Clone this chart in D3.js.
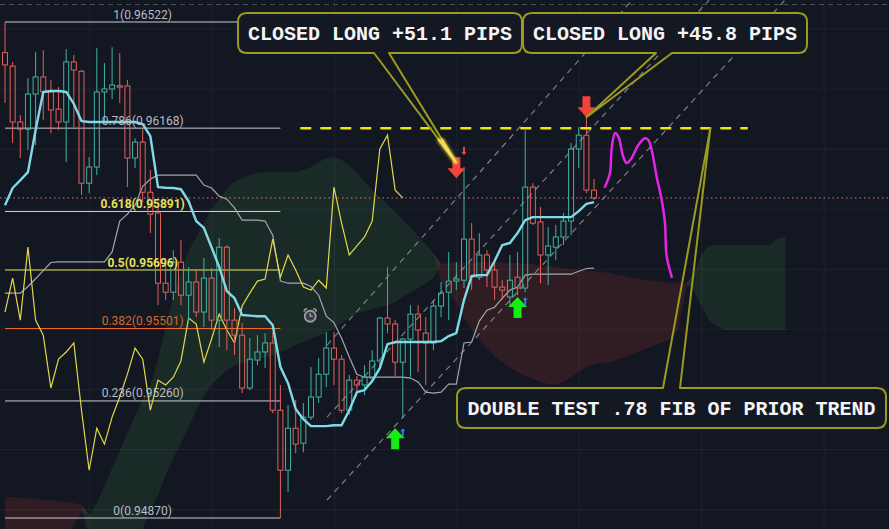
<!DOCTYPE html>
<html><head><meta charset="utf-8">
<script src="https://cdn.jsdelivr.net/npm/d3@7/dist/d3.min.js"></script>
<style>html,body{margin:0;padding:0;background:#131722;overflow:hidden}svg{display:block}</style>
</head><body>
<svg id="chart" width="889" height="529"></svg>
<script>
// ================= DATA =================
const opens = [0.96420,0.96375,0.96189,0.96165,0.96282,0.96339,0.96289,0.96232,0.96189,0.96389,
0.96358,0.95985,0.96039,0.96289,0.96299,0.96310,0.96309,0.96069,0.96122,0.95955,
0.95886,0.95652,0.95622,0.95722,0.95612,0.95656,0.95556,0.95669,0.95529,0.95772,
0.95529,0.95479,0.95303,0.95396,0.95423,0.95453,0.95229,0.95029,0.95169,0.95119,
0.95206,0.95273,0.95349,0.95436,0.95399,0.95229,0.95329,0.95313,0.95336,0.95393,
0.95536,0.95516,0.95389,0.95466,0.95549,0.95486,0.95453,0.95576,0.95622,0.95659,
0.95662,0.95799,0.95672,0.95746,0.95696,0.95639,0.95606,0.95672,0.95636,0.95972,
0.95856,0.95746,0.95772,0.95806,0.95859,0.96099,0.96145,0.95962];
const highs = [0.96522,0.96389,0.96212,0.96335,0.96422,0.96428,0.96329,0.96305,0.96432,0.96412,
0.96362,0.96072,0.96435,0.96385,0.96438,0.96419,0.96329,0.96135,0.96165,0.96029,
0.95912,0.95736,0.95762,0.95796,0.95706,0.95696,0.95736,0.95702,0.95802,0.95779,
0.95569,0.95519,0.95469,0.95479,0.95486,0.95489,0.95313,0.95246,0.95263,0.95253,
0.95373,0.95403,0.95489,0.95489,0.95413,0.95346,0.95343,0.95379,0.95429,0.95540,
0.95706,0.95529,0.95470,0.95579,0.95579,0.95539,0.95596,0.95656,0.95756,0.95722,
0.96039,0.95852,0.95819,0.95762,0.95729,0.95662,0.95746,0.95756,0.96162,0.95985,
0.95906,0.95839,0.95846,0.95886,0.96119,0.96172,0.96202,0.95999];
const lows = [0.96252,0.96119,0.96069,0.96095,0.96112,0.96195,0.96152,0.96162,0.96055,0.96172,
0.95946,0.95952,0.96012,0.96185,0.96265,0.96252,0.95972,0.96035,0.95922,0.95819,
0.95579,0.95596,0.95596,0.95579,0.95522,0.95539,0.95506,0.95496,0.95439,0.95429,
0.95413,0.95286,0.95296,0.95379,0.95369,0.95219,0.94870,0.94956,0.95086,0.95089,
0.95196,0.95253,0.95306,0.95313,0.95219,0.95213,0.95289,0.95279,0.95319,0.95363,
0.95486,0.95339,0.95203,0.95339,0.95356,0.95313,0.95429,0.95539,0.95529,0.95629,
0.95636,0.95629,0.95662,0.95639,0.95596,0.95596,0.95579,0.95612,0.95622,0.95846,
0.95652,0.95646,0.95729,0.95779,0.95812,0.96035,0.95952,0.95929];
const closes = [0.96379,0.96189,0.96165,0.96282,0.96339,0.96289,0.96229,0.96189,0.96389,0.96362,
0.95985,0.96039,0.96289,0.96299,0.96312,0.96305,0.96069,0.96122,0.95955,0.95882,
0.95652,0.95622,0.95722,0.95612,0.95656,0.95556,0.95669,0.95529,0.95772,0.95529,
0.95479,0.95303,0.95399,0.95423,0.95453,0.95229,0.95029,0.95169,0.95116,0.95206,
0.95273,0.95349,0.95436,0.95399,0.95229,0.95329,0.95313,0.95339,0.95393,0.95536,
0.95516,0.95389,0.95466,0.95549,0.95496,0.95453,0.95576,0.95619,0.95659,0.95666,
0.95799,0.95672,0.95746,0.95696,0.95639,0.95629,0.95662,0.95636,0.95972,0.95852,
0.95746,0.95776,0.95806,0.95859,0.96099,0.96145,0.95962,0.95936];

// base line (cyan)
const baseLine = [0.95912,0.95969,0.95995,0.96022,0.96162,0.96289,0.96292,0.96292,0.96289,0.96249,
0.96192,0.96189,0.96189,0.96189,0.96189,0.96189,0.96189,0.96189,0.96182,0.96142,
0.95972,0.95970,0.95969,0.95965,0.95925,0.95859,0.95836,0.95772,0.95706,0.95626,
0.95602,0.95546,0.95544,0.95542,0.95542,0.95512,0.95373,0.95319,0.95233,0.95199,
0.95176,0.95176,0.95176,0.95179,0.95179,0.95229,0.95289,0.95296,0.95326,0.95369,
0.95449,0.95456,0.95456,0.95456,0.95456,0.95456,0.95456,0.95459,0.95476,0.95486,
0.95596,0.95676,0.95679,0.95679,0.95726,0.95779,0.95786,0.95819,0.95862,0.95872,
0.95872,0.95872,0.95872,0.95872,0.95872,0.95892,0.95916,0.95922];
// slow line (grey)
const slowLine = [0.95619,0.95619,0.95619,0.95641,0.95667,0.95694,0.95721,0.95723,0.95723,0.95723,
0.95723,0.95723,0.95723,0.95723,0.95756,0.95859,0.95882,0.95912,0.95975,0.95999,
0.96012,0.96012,0.96012,0.96012,0.96012,0.96012,0.95979,0.95969,0.95942,0.95932,
0.95903,0.95862,0.95862,0.95862,0.95859,0.95812,0.95659,0.95652,0.95652,0.95652,
0.95641,0.95612,0.95542,0.95521,0.95469,0.95406,0.95349,0.95339,0.95339,0.95339,
0.95339,0.95339,0.95339,0.95336,0.95323,0.95289,0.95286,0.95289,0.95316,0.95316,
0.95453,0.95456,0.95526,0.95562,0.95572,0.95602,0.95629,0.95639,0.95679,0.95682,
0.95682,0.95682,0.95682,0.95682,0.95682,0.95692,0.95701,0.95702];
// lagging span (yellow)
const laggingSpan = [0.95556,0.95669,0.95529,0.95772,0.95529,0.95479,0.95303,0.95399,0.95423,0.95453,
0.95229,0.95029,0.95169,0.95116,0.95206,0.95273,0.95349,0.95436,0.95399,0.95229,
0.95329,0.95313,0.95339,0.95393,0.95536,0.95516,0.95389,0.95466,0.95549,0.95496,
0.95453,0.95576,0.95619,0.95659,0.95666,0.95799,0.95672,0.95746,0.95696,0.95639,
0.95629,0.95662,0.95636,0.95972,0.95852,0.95746,0.95776,0.95806,0.95859,0.96099,
0.96145,0.95962,0.95936];
// cloud spans (projected forward)
const spanA = [0.94696,0.94703,0.94710,0.94716,0.94730,0.94743,0.94763,0.94783,0.94810,0.94846,
0.94890,0.94880,0.94920,0.94976,0.95036,0.95093,0.95153,0.95209,0.95263,0.95313,
0.95396,0.95506,0.95606,0.95686,0.95759,0.95806,0.95852,0.95899,0.95932,0.95965,
0.95992,0.96002,0.96012,0.96019,0.96022,0.96022,0.96022,0.96022,0.96022,0.96029,
0.96039,0.96055,0.96069,0.96072,0.96062,0.96045,0.96019,0.95989,0.95962,0.95939,
0.95912,0.95889,0.95862,0.95836,0.95809,0.95782,0.95752,0.95656,0.95622,0.95586,
0.95536,0.95496,0.95462,0.95436,0.95409,0.95389,0.95373,0.95356,0.95342,0.95333,
0.95323,0.95316,0.95313,0.95323,0.95339,0.95359,0.95373,0.95382,0.95386,0.95389,
0.95396,0.95406,0.95416,0.95426,0.95436,0.95446,0.95456,0.95466,0.95496,0.95629,
0.95679,0.95746,0.95776,0.95779,0.95779,0.95779,0.95779,0.95779,0.95779,0.95779,
0.95779,0.95802,0.95806];
const spanB = [0.94940,0.94940,0.94936,0.94936,0.94933,0.94930,0.94930,0.94926,0.94923,0.94920,
0.94913,0.94796,0.94730,0.94723,0.94730,0.94743,0.94770,0.94796,0.94836,0.94896,
0.94946,0.95013,0.95069,0.95119,0.95173,0.95229,0.95276,0.95316,0.95339,0.95363,
0.95379,0.95386,0.95393,0.95399,0.95406,0.95413,0.95423,0.95433,0.95446,0.95456,
0.95469,0.95476,0.95486,0.95502,0.95519,0.95536,0.95552,0.95559,0.95566,0.95572,
0.95579,0.95589,0.95606,0.95622,0.95636,0.95652,0.95669,0.95716,0.95719,0.95722,
0.95722,0.95722,0.95722,0.95722,0.95722,0.95722,0.95719,0.95719,0.95716,0.95716,
0.95712,0.95709,0.95706,0.95702,0.95699,0.95696,0.95696,0.95692,0.95689,0.95686,
0.95679,0.95676,0.95669,0.95666,0.95662,0.95659,0.95656,0.95652,0.95656,0.95649,
0.95629,0.95579,0.95529,0.95512,0.95496,0.95496,0.95496,0.95496,0.95496,0.95496,
0.95496,0.95496,0.95496];

// Fibonacci retracement
const fibLevels = [1, 0.786, 0.618, 0.5, 0.382, 0.236, 0];
const fibLow = 0.94870, fibHigh = 0.96522;
const fibBars = [0, 36];

// grid ticks
const gridPrices = [0.9490,0.9510,0.9530,0.9550,0.9570,0.9590,0.9610,0.9630,0.9650];
const gridBars = [11,27,43,59,75,91,107];

// drawings (bar index, price)
const lastPrice = 0.95936;
const targetLevel = {price: 0.96168, from: 38.6, to: 97.1};
const channelLines = [
  {b0: 42.1, p0: 0.95446, b1: 81.96, p1: 0.96595},
  {b0: 42.1, p0: 0.95206, b1: 92.03, p1: 0.96595},
  {b0: 42.1, p0: 0.94930, b1: 101.96, p1: 0.96595}
];
const projection = [[78.43,0.95973],[79.08,0.96019],[79.31,0.96102],[79.74,0.96152],[80.18,0.96140],
  [80.82,0.96073],[81.27,0.96052],[81.92,0.96069],[82.78,0.96112],[83.66,0.96135],[84.09,0.96129],
  [84.54,0.96095],[85.19,0.96006],[85.84,0.95929],[86.27,0.95852],[86.41,0.95762],[86.58,0.95729],[87.15,0.95673]];
const sellSignals = [{bar:59, price:0.96002}, {bar:76, price:0.96205}];
const buySignals = [{bar:51, price:0.95169}, {bar:67, price:0.95606}];
const sellMarks = [{bar:60, price:0.96079}];
const buyMarks = [{bar:52, price:0.95169}, {bar:68, price:0.95606}];
const alarm = {bar:39.9, price:0.95542};
const callouts = [
  {text:"CLOSED LONG +51.1 PIPS", tipBar:59, tipPrice:0.96052},
  {text:"CLOSED LONG +45.8 PIPS", tipBar:76, tipPrice:0.96205},
  {text:"DOUBLE TEST .78 FIB OF PRIOR TREND", tipBar:92.2, tipPrice:0.96168}
];

// ================= DRAW =================
const W = 889, H = 529;
const svg = d3.select('#chart');
const x = d3.scaleLinear().domain([0, 102]).range([5, 5 + 102*7.65]);
const y = d3.scaleLinear().domain([fibLow, fibHigh]).range([518, 22]);

const defs = svg.append('defs');
defs.append('filter').attr('id','glow').attr('x','-50%').attr('y','-50%').attr('width','200%').attr('height','200%')
  .append('feGaussianBlur').attr('stdDeviation',1.6);

svg.append('rect').attr('width', W).attr('height', H).attr('fill', '#131722');

// grid via axes
const gy = svg.append('g').call(d3.axisRight(y).tickValues(gridPrices).tickSize(W).tickFormat(''));
gy.select('.domain').remove();
gy.selectAll('line').attr('stroke', '#1f2330');
const gx = svg.append('g').call(d3.axisBottom(x).tickValues(gridBars).tickSize(H).tickFormat(''));
gx.select('.domain').remove();
gx.selectAll('line').attr('stroke', '#1f2330');

// top dashed separator
svg.append('line').attr('x1',0).attr('x2',W).attr('y1',4.5).attr('y2',4.5)
  .attr('stroke','#4b4f5b').attr('stroke-dasharray','5,4');

// cloud
const idx = d3.range(spanA.length);
svg.append('path').datum(idx).attr('fill','rgba(67,160,71,0.15)')
  .attr('d', d3.area().x(i=>x(i)).y0(i=>y(spanB[i])).y1(i=>y(Math.max(spanA[i],spanB[i]))));
svg.append('path').datum(idx).attr('fill','rgba(244,67,54,0.13)')
  .attr('d', d3.area().x(i=>x(i)).y0(i=>y(spanA[i])).y1(i=>y(Math.max(spanA[i],spanB[i]))));

// fib lines
const fibColor = l => (l===0.618||l===0.5) ? '#e8e35a' : (l===0.382 ? '#ec6a2e' : '#c9ccd3');
const fibPrice = l => fibLow + l*(fibHigh-fibLow);
svg.append('g').selectAll('line').data(fibLevels).join('line')
  .attr('x1', x(fibBars[0])).attr('x2', x(fibBars[1]))
  .attr('y1', d=>y(fibPrice(d))).attr('y2', d=>y(fibPrice(d)))
  .attr('stroke', fibColor).attr('stroke-width', 1);

// channel dashed lines
svg.append('g').selectAll('line').data(channelLines).join('line')
  .attr('x1', d=>x(d.b0)).attr('y1', d=>y(d.p0)).attr('x2', d=>x(d.b1)).attr('y2', d=>y(d.p1))
  .attr('stroke','#9598a1').attr('stroke-width',1.2).attr('stroke-dasharray','6,5').attr('opacity',0.8);

// slow line (grey)
svg.append('path').datum(slowLine).attr('fill','none').attr('stroke','#a3a6af').attr('stroke-width',1.2)
  .attr('d', d3.line().x((d,i)=>x(i)).y(d=>y(d)));
// lagging span
svg.append('path').datum(laggingSpan).attr('fill','none').attr('stroke','#e3d84a').attr('stroke-width',1.2)
  .attr('d', d3.line().x((d,i)=>x(i)).y(d=>y(d)));

// candles
const bars = opens.map((o,i)=>({i, o, h:highs[i], l:lows[i], c:closes[i]}));
const up = '#3fb3a3', dn = '#e2605a';
const cg = svg.append('g');
cg.selectAll('.wk').data(bars).join('path')
  .attr('stroke', d=>d.c>=d.o?up:dn).attr('stroke-width',1).attr('fill','none')
  .attr('d', d=>{
    const cx = x(d.i), top=y(Math.max(d.o,d.c)), bot=y(Math.min(d.o,d.c));
    return `M${cx},${y(d.h)}V${top}M${cx},${bot}V${y(d.l)}`;
  });
cg.selectAll('.bd').data(bars).join('rect')
  .attr('x', d=>x(d.i)-2.5).attr('width',5)
  .attr('y', d=>y(Math.max(d.o,d.c))).attr('height', d=>Math.max(1, y(Math.min(d.o,d.c))-y(Math.max(d.o,d.c))))
  .attr('fill','none').attr('stroke', d=>d.c>=d.o?up:dn).attr('stroke-width',1);

// base line (cyan)
svg.append('path').datum(baseLine).attr('fill','none').attr('stroke','#80dbe8').attr('stroke-width',2.4)
  .attr('stroke-linejoin','round').attr('d', d3.line().x((d,i)=>x(i)).y(d=>y(d)));

// last price dotted line
svg.append('line').attr('x1',0).attr('x2',W).attr('y1',y(lastPrice)).attr('y2',y(lastPrice))
  .attr('stroke','#e8737a').attr('stroke-dasharray','1.5,3').attr('stroke-width',1);

// target yellow dashed
svg.append('line').attr('x1',x(targetLevel.from)).attr('x2',x(targetLevel.to))
  .attr('y1',y(targetLevel.price)).attr('y2',y(targetLevel.price))
  .attr('stroke','#f2e600').attr('stroke-width',2.5).attr('stroke-dasharray','11,9');

// projection magenta
svg.append('path').datum(projection).attr('fill','none').attr('stroke','#e226e6').attr('stroke-width',2.5)
  .attr('stroke-linecap','round').attr('d', d3.line().x(d=>x(d[0])).y(d=>y(d[1])).curve(d3.curveCatmullRom));

// arrows
const downArrow = 'M0,0L-9,-10L-4,-10L-4,-21L4,-21L4,-10L9,-10Z';
const upArrow = 'M0,0L-9.5,10L-4,10L-4,21L4,21L4,10L9.5,10Z';
svg.append('g').selectAll('path').data(sellSignals).join('path')
  .attr('transform', d=>`translate(${x(d.bar)},${y(d.price)})`).attr('d', downArrow).attr('fill','#f0443a');
svg.append('g').selectAll('path').data(buySignals).join('path')
  .attr('transform', d=>`translate(${x(d.bar)},${y(d.price)})`).attr('d', upArrow).attr('fill','#14ee14');
svg.append('g').selectAll('path').data(sellMarks).join('path')
  .attr('transform', d=>`translate(${x(d.bar)},${y(d.price)})`).attr('d','M0,0L-2.5,-3L-1,-3L-1,-8L1,-8L1,-3L2.5,-3Z').attr('fill','#f0443a');
svg.append('g').selectAll('path').data(buyMarks).join('path')
  .attr('transform', d=>`translate(${x(d.bar)},${y(d.price)})`).attr('d','M0,0L-2.5,3L-1,3L-1,8L1,8L1,3L2.5,3Z').attr('fill','#2f7fe0');

// alarm icon
const al = svg.append('g').attr('transform', `translate(${x(alarm.bar)},${y(alarm.price)})`);
al.append('circle').attr('r',5.5).attr('fill','#3a3d47').attr('stroke','#9a9da6').attr('stroke-width',1.8);
al.append('path').attr('d','M0,-3V0H2.5').attr('stroke','#b0b3bb').attr('fill','none').attr('stroke-width',1.2);
al.append('path').attr('d','M-6,-4.5A3,3 0 0 1 -3,-7.5M6,-4.5A3,3 0 0 0 3,-7.5').attr('stroke','#9a9da6').attr('fill','none').attr('stroke-width',1.6);

// fib labels
svg.append('g').selectAll('text').data(fibLevels).join('text')
  .attr('x', (x(fibBars[0])+x(fibBars[1]))/2).attr('y', d=>y(fibPrice(d))-3.5)
  .attr('text-anchor','middle').attr('font-family','Roboto, "Noto Sans", sans-serif').attr('font-size',12)
  .attr('font-weight', d=>(d===0.618||d===0.5)?700:400)
  .attr('fill', d=>(d===0.618||d===0.5)?'#e6e15c':(d===0.382?'#d8672f':'#b9bcc4'))
  .text(d=>`${d}(${fibPrice(d).toFixed(5)})`);

// callouts
const boxes = [
  {x0:238, y0:13, x1:522, y1:53, tb1:374, tb2:389, side:'bottom', ty:39.5},
  {x0:523, y0:13, x1:807, y1:53, tb1:656, tb2:672, side:'bottom', ty:39.5},
  {x0:457, y0:388, x1:886, y1:428, tb1:663, tb2:680, side:'top', ty:414.5}
];
const r = 9;
callouts.forEach((c,k)=>{
  const b = boxes[k], tx = x(c.tipBar), ty = y(c.tipPrice);
  let d;
  if (b.side==='bottom') {
    d = `M${b.x0+r},${b.y0}H${b.x1-r}Q${b.x1},${b.y0} ${b.x1},${b.y0+r}V${b.y1-r}Q${b.x1},${b.y1} ${b.x1-r},${b.y1}`+
        `H${b.tb2}L${tx},${ty}L${b.tb1},${b.y1}H${b.x0+r}Q${b.x0},${b.y1} ${b.x0},${b.y1-r}V${b.y0+r}Q${b.x0},${b.y0} ${b.x0+r},${b.y0}Z`;
  } else {
    d = `M${b.x0+r},${b.y0}H${b.tb1}L${tx},${ty}L${b.tb2},${b.y0}H${b.x1-r}Q${b.x1},${b.y0} ${b.x1},${b.y0+r}V${b.y1-r}Q${b.x1},${b.y1} ${b.x1-r},${b.y1}`+
        `H${b.x0+r}Q${b.x0},${b.y1} ${b.x0},${b.y1-r}V${b.y0+r}Q${b.x0},${b.y0} ${b.x0+r},${b.y0}Z`;
  }
  svg.append('rect').attr('x',b.x0).attr('y',b.y0).attr('width',b.x1-b.x0).attr('height',b.y1-b.y0)
    .attr('rx',r).attr('fill','#141823');
  svg.append('path').attr('d',d).attr('fill','none').attr('stroke','#9c9a1f').attr('stroke-width',2).attr('stroke-linejoin','round');
  if (k===0) {
    // glowing tip near the signal
    const t1 = [b.tb1 + (tx-b.tb1)*0.78, b.y1 + (ty-b.y1)*0.78];
    const t2 = [b.tb2 + (tx-b.tb2)*0.78, b.y1 + (ty-b.y1)*0.78];
    svg.append('path').attr('d',`M${t1[0]},${t1[1]}L${tx},${ty}L${t2[0]},${t2[1]}`)
      .attr('fill','none').attr('stroke','#ffd84a').attr('stroke-width',3.5).attr('filter','url(#glow)').attr('opacity',0.9);
    svg.append('path').attr('d',`M${t1[0]},${t1[1]}L${tx},${ty}L${t2[0]},${t2[1]}`)
      .attr('fill','none').attr('stroke','#f5e35a').attr('stroke-width',1.6);
  }
  svg.append('text').attr('x',(b.x0+b.x1)/2).attr('y',b.ty).attr('text-anchor','middle')
    .attr('font-family','"Liberation Mono", "DejaVu Sans Mono", monospace').attr('font-weight',700)
    .attr('font-size',20).attr('fill','#f4f4f4').text(c.text);
});
</script>
</body></html>
